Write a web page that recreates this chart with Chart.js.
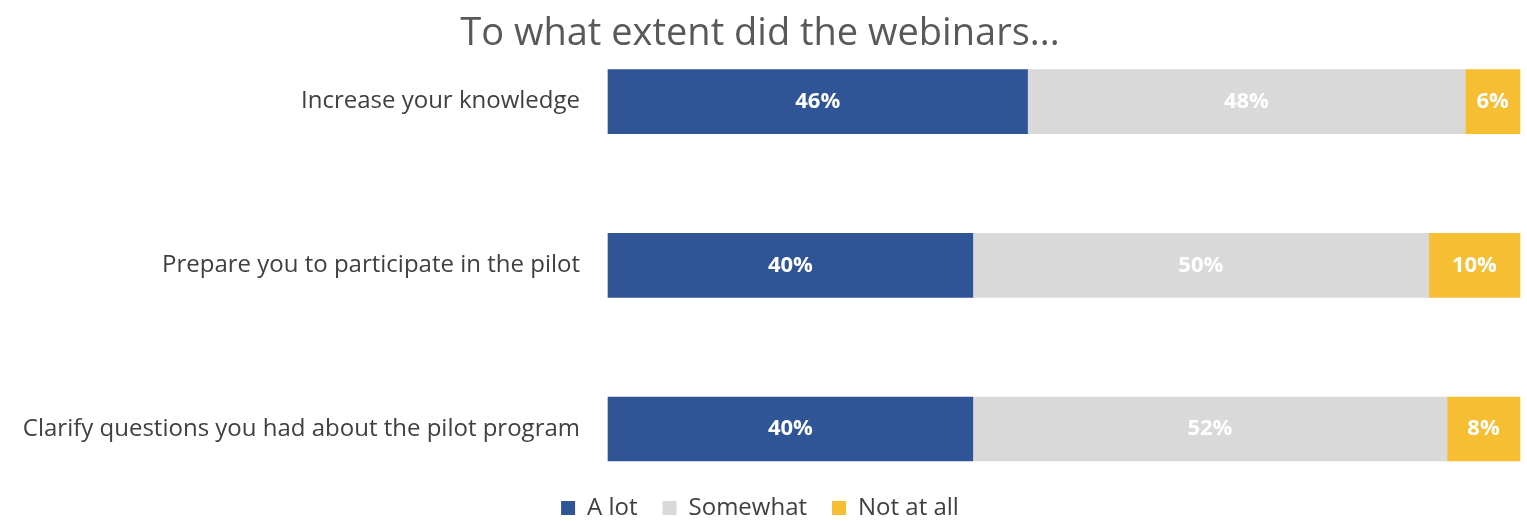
<!DOCTYPE html>
<html lang="en">
<head>
    <meta charset="UTF-8">
    <title>Webinars survey</title>
    <script src="https://cdn.jsdelivr.net/npm/chart.js"></script>
    <style>
        html, body { margin: 0; padding: 0; background: #fff; }
        .chart-container { width: 1527px; height: 521px; }
    </style>
</head>
<body>
    <div class="chart-container">
        <canvas id="webinarChart"></canvas>
    </div>

    <script>
        const categories = [
            'Increase your knowledge',
            'Prepare you to participate in the pilot',
            'Clarify questions you had about the pilot program'
        ];
        const aLot = [46, 40, 40];
        const somewhat = [48, 50, 52];
        const notAtAll = [6, 10, 8];

        // writes the percentage in the middle of every bar segment
        const barLabels = {
            id: 'barLabels',
            afterDatasetsDraw(chart) {
                const ctx = chart.ctx;
                ctx.save();
                ctx.font = 'bold 22px "Open Sans"';
                ctx.fillStyle = '#ffffff';
                ctx.textAlign = 'center';
                ctx.textBaseline = 'middle';
                chart.data.datasets.forEach((ds, i) => {
                    chart.getDatasetMeta(i).data.forEach((bar, j) => {
                        const cx = (bar.x + bar.base) / 2;
                        ctx.fillText(ds.data[j] + '%', cx, bar.y);
                    });
                });
                ctx.restore();
            }
        };

        const ctx = document.getElementById('webinarChart').getContext('2d');
        new Chart(ctx, {
            type: 'bar',
            data: {
                labels: categories,
                datasets: [
                    { label: 'A lot', data: aLot, backgroundColor: '#2F5597', clip: false },
                    { label: 'Somewhat', data: somewhat, backgroundColor: '#D9D9D9', clip: false },
                    { label: 'Not at all', data: notAtAll, backgroundColor: '#F6BE33', clip: false }
                ]
            },
            options: {
                indexAxis: 'y',
                responsive: true,
                maintainAspectRatio: false,
                animation: false,
                barThickness: 64,
                layout: { padding: { left: 0, right: 7, top: 0, bottom: -9 } },
                scales: {
                    x: {
                        stacked: true,
                        min: 0,
                        max: 100,
                        grid: { display: false },
                        border: { display: false },
                        ticks: { display: false },
                        afterFit: (scale) => { scale.height = 42; }
                    },
                    y: {
                        stacked: true,
                        offset: false,
                        grid: { display: false },
                        border: { display: false },
                        ticks: {
                            padding: 20,
                            color: '#404040',
                            font: { family: 'Open Sans', size: 24 }
                        },
                        afterFit: (scale) => { scale.width = 608; }
                    }
                },
                plugins: {
                    title: {
                        display: true,
                        text: 'To what extent did the webinars...',
                        color: '#595959',
                        font: { family: 'Open Sans', size: 38, weight: 'normal' },
                        padding: { top: 11, bottom: 45 }
                    },
                    legend: {
                        position: 'bottom',
                        labels: {
                            color: '#404040',
                            font: { family: 'Open Sans', size: 24 },
                            boxWidth: 14,
                            boxHeight: 14,
                            padding: 25
                        }
                    },
                    tooltip: { enabled: false }
                }
            },
            plugins: [barLabels]
        });
    </script>
</body>
</html>
